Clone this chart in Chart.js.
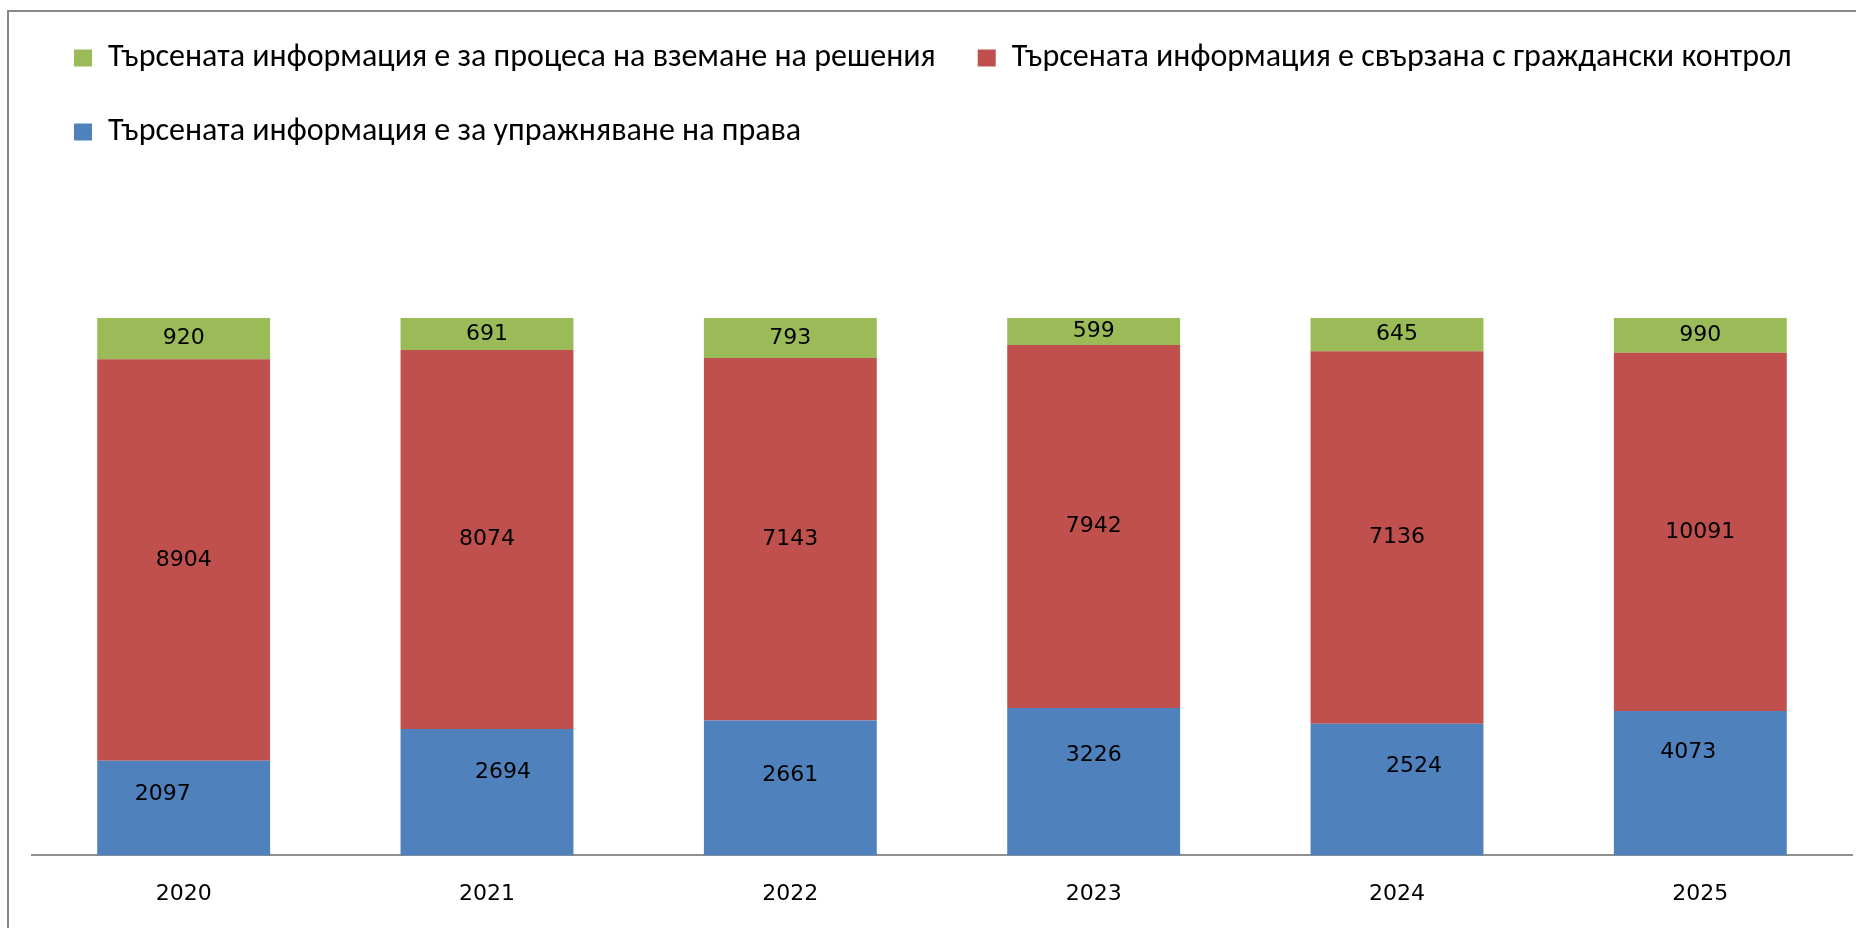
<!DOCTYPE html>
<html>
<head>
<meta charset="utf-8">
<script src="https://cdn.jsdelivr.net/npm/chart.js@4.4.1/dist/chart.umd.min.js"></script>
<style>
  html, body { margin: 0; padding: 0; background: #fff; overflow: hidden; }
  #frame { position: absolute; left: 7px; top: 10px; width: 1860px; height: 940px; border-left: 2px solid #888; border-top: 2px solid #888; }
  #wrap { position: absolute; left: 0; top: 0; width: 1856px; height: 936px; }
</style>
</head>
<body>
<div id="frame"></div>
<div id="wrap"><canvas id="chart"></canvas></div>
<script>
const years = ['2020', '2021', '2022', '2023', '2024', '2025'];
const decisionCounts = [920, 691, 793, 599, 645, 990];
const controlCounts = [8904, 8074, 7143, 7942, 7136, 10091];
const rightsCounts = [2097, 2694, 2661, 3226, 2524, 4073];

const decisionLabel = 'Търсената информация е за процеса на вземане на решения';
const controlLabel = 'Търсената информация е свързана с граждански контрол';
const rightsLabel = 'Търсената информация е за упражняване на права';

// manual nudges of the blue labels, as placed in the original
const rightsLabelDx = [-21, 16, 0, 0, 17, -12];
const rightsLabelDy = [-14, -20, -13, -26, -23, -31];

// 100% stacked: each year is drawn as shares of its total
const totals = years.map((_, i) => decisionCounts[i] + controlCounts[i] + rightsCounts[i]);
const share = arr => arr.map((v, i) => v / totals[i] * 100);

const segmentLabels = {
  id: 'segmentLabels',
  afterDatasetsDraw(chart) {
    const ctx = chart.ctx;
    ctx.save();
    ctx.font = '22px "DejaVu Sans"';
    ctx.fillStyle = '#000';
    ctx.textAlign = 'center';
    ctx.textBaseline = 'middle';
    chart.data.datasets.forEach((ds, i) => {
      const meta = chart.getDatasetMeta(i);
      meta.data.forEach((bar, j) => {
        const dx = ds.labelDx ? ds.labelDx[j] : 0;
        const dy = ds.labelDy ? ds.labelDy[j] : 0;
        ctx.fillText(String(ds.counts[j]), bar.x + dx, (bar.y + bar.base) / 2 + dy);
      });
    });
    ctx.restore();
  }
};

new Chart(document.getElementById('chart'), {
  type: 'bar',
  data: {
    labels: years,
    datasets: [
      {
        label: rightsLabel,
        data: share(rightsCounts),
        counts: rightsCounts,
        labelDx: rightsLabelDx,
        labelDy: rightsLabelDy,
        backgroundColor: '#4F81BD'
      },
      {
        label: controlLabel,
        data: share(controlCounts),
        counts: controlCounts,
        backgroundColor: '#C0504D'
      },
      {
        label: decisionLabel,
        data: share(decisionCounts),
        counts: decisionCounts,
        backgroundColor: '#9BBB59'
      }
    ]
  },
  options: {
    responsive: true,
    maintainAspectRatio: false,
    animation: false,
    categoryPercentage: 1,
    barPercentage: 0.57,
    layout: { padding: { left: 32, right: 4, top: 0, bottom: 2.2 } },
    plugins: {
      legend: {
        position: 'top',
        align: 'start',
        labels: {
          boxWidth: 18,
          boxHeight: 17,
          padding: 42,
          color: '#000',
          font: { family: 'Carlito, sans-serif', size: 32 },
          sort: (a, b) => b.datasetIndex - a.datasetIndex
        }
      },
      // empty subtitle used as a spacer between the legend and the plot
      subtitle: {
        display: true,
        text: '',
        weight: 500,
        font: { size: 10, lineHeight: 1 },
        padding: { top: 0, bottom: 149.7 }
      },
      tooltip: { enabled: false }
    },
    scales: {
      x: {
        stacked: true,
        grid: { display: false, drawTicks: false },
        border: { color: '#8f8f8f', width: 2 },
        ticks: {
          color: '#000',
          padding: 26,
          font: { family: '"DejaVu Sans"', size: 22 }
        }
      },
      y: {
        stacked: true,
        display: false,
        min: 0,
        max: 100
      }
    }
  },
  plugins: [segmentLabels]
});
</script>
</body>
</html>
